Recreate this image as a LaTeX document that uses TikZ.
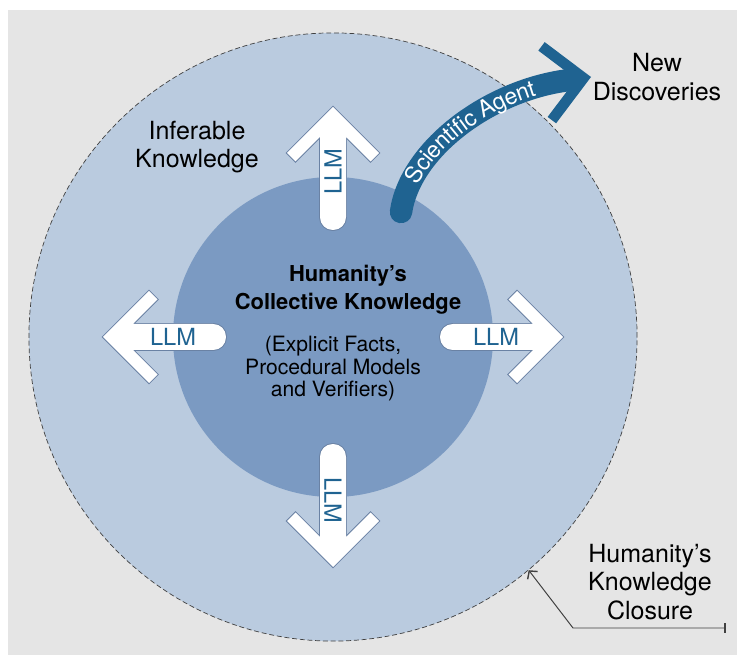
\documentclass[tikz,border=0pt]{standalone}
\usepackage{fontspec}
\setmainfont{TeX Gyre Heros}
\usepackage{tikz}
\usetikzlibrary{arrows.meta, positioning, decorations.text}

\definecolor{bggray}{HTML}{E5E5E5}
\definecolor{closureblue}{HTML}{BACBDF}
\definecolor{knowblue}{HTML}{7B9AC2}
\definecolor{agentblue}{HTML}{1F6391}
\definecolor{edgeblue}{HTML}{6A82A4}

\begin{document}
\begin{tikzpicture}[x=0.025cm, y=-0.025cm, >=stealth]
	\tikzstyle{closure} = [circle, draw=black!75, dash pattern=on 3.5pt off 2pt, line width=0.5pt, fill=closureblue, minimum size=15.2cm, inner sep=0pt]
	\tikzstyle{collective} = [circle, fill=knowblue, minimum size=8cm, inner sep=0pt]
	\tikzstyle{llmbody} = [fill=white, preaction={draw=edgeblue, line width=1.4pt}]
	\tikzstyle{llmtext} = [text=agentblue, font=\fontsize{16.8}{18}\selectfont, inner sep=0pt]
	\tikzstyle{bigtext} = [align=center, inner sep=0pt, font=\fontsize{17.8}{20.3}\selectfont]
	\tikzstyle{titletext} = [align=center, inner sep=0pt, font=\fontsize{15.6}{19.9}\selectfont\bfseries]
	\tikzstyle{subtext} = [align=center, inner sep=0pt, font=\fontsize{15}{16}\selectfont]
	\tikzstyle{agentband} = [draw=agentblue, line width=0.56cm, line cap=round]
	\tikzstyle{closureline} = [draw=black!75, line width=0.7pt, {Bar[width=7pt, line width=1.2pt]}-{Straight Barb[length=4pt, width=9pt, line width=1pt]}]

	\useasboundingbox (0,0) rectangle (737,655);
	\fill[bggray] (8,10) rectangle (737,655);

	\node[closure] (closure) at (333,337) {};
	\node[collective] (collective) at (333,337) {};

	\begin{scope}[shift={(333,337)}]
		\path[llmbody] (0,-230) -- (-46,-184) -- (-37.5,-175.5) -- (0,-213) -- (37.5,-175.5) -- (46,-184) -- cycle
			[rounded corners=0.32cm] (-13,-213) rectangle (13,-107);
	\end{scope}

	\begin{scope}[shift={(333,337)}, rotate=90]
		\path[llmbody] (0,-230) -- (-46,-184) -- (-37.5,-175.5) -- (0,-213) -- (37.5,-175.5) -- (46,-184) -- cycle
			[rounded corners=0.32cm] (-13,-213) rectangle (13,-107);
	\end{scope}

	\begin{scope}[shift={(333,337)}, rotate=-90]
		\path[llmbody] (0,-230) -- (-46,-184) -- (-37.5,-175.5) -- (0,-213) -- (37.5,-175.5) -- (46,-184) -- cycle
			[rounded corners=0.32cm] (-13,-213) rectangle (13,-107);
	\end{scope}

	\begin{scope}[shift={(333,337)}, rotate=180]
		\path[llmbody] (0,-230) -- (-46,-184) -- (-37.5,-175.5) -- (0,-213) -- (37.5,-175.5) -- (46,-184) -- cycle
			[rounded corners=0.32cm] (-13,-213) rectangle (13,-107);
	\end{scope}

	\path
		node[llmtext, rotate=90] (llmup) at (333,172) {LLM}
		node[llmtext, rotate=-90] (llmdown) at (333,500) {LLM}
		node[llmtext] (llmleft) at (173,337) {LLM}
		node[llmtext] (llmright) at (496,337) {LLM}
	;

	\path
		coordinate (agentstart) at (401,212)
		coordinate (agenttip) at (591,77)
		coordinate (agentend) at (566,80.5)
	;
	\draw[agentband, postaction={decorate, decoration={text along path, text align=center, raise=-5.8pt,
		text={|\color{white}\fontsize{16.4}{18}\selectfont|Scientific Agent}}}]
		(agentstart) .. controls (410,150) and (487,91.6) .. (agentend);
	\begin{scope}[shift={(agenttip)}, rotate=8]
		\fill[agentblue] (0,0) -- (-41,-41) -- (-48.5,-33.5) -- (-15,0) -- (-48.5,33.5) -- (-41,41) -- cycle;
	\end{scope}

	\node[bigtext] (inferable) at (197,147) {Inferable\\Knowledge};
	\node[titletext] (humanity) at (348,290) {Humanity’s\\Collective Knowledge};
	\node[subtext, below=15pt of humanity.south -| collective] (facts) {(Explicit Facts,\\Procedural Models\\and Verifiers)};
	\node[bigtext] (discoveries) at (657,77) {New\\Discoveries};
	\node[bigtext] (closurelabel) at (650,582) {Humanity’s\\Knowledge\\Closure};

	\path
		coordinate (tick) at (726,628)
		coordinate (bend) at (573,628)
	;
	\draw[closureline] (tick) -- (bend) -- (closure.-50);
\end{tikzpicture}
\end{document}
